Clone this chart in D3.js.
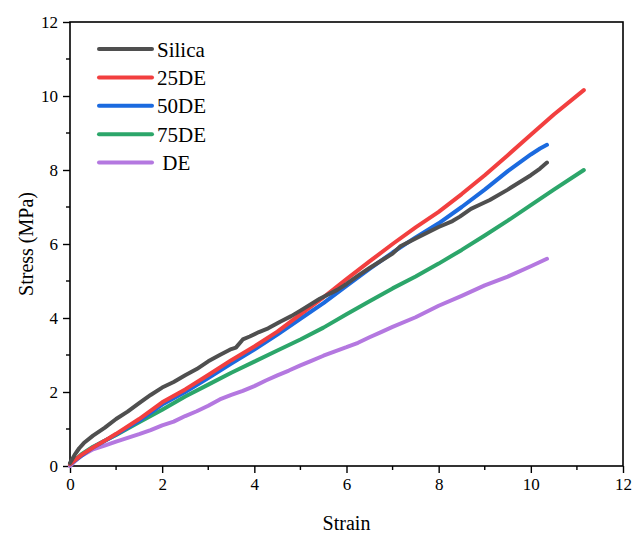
<!DOCTYPE html>
<html>
<head>
<meta charset="utf-8">
<script src="https://cdn.jsdelivr.net/npm/d3@7"></script>
<style>
  html, body { margin: 0; padding: 0; background: #fff; }
  svg { display: block; }
  text { font-family: "Liberation Serif", "Times New Roman", serif; fill: #000; }
</style>
</head>
<body>
<svg id="chart" width="634" height="533"></svg>
<script>
// Stress-strain curves for each filler composition
const seriesNames = ["Silica", "25DE", "50DE", "75DE", " DE"];
const seriesColors = ["#4f4f4f", "#f23f3f", "#1b6adf", "#2ca66a", "#b478e0"];

const silicaStrain = [0, 0.1, 0.2, 0.3, 0.5, 0.75, 1.0, 1.25, 1.5, 1.75, 2.0, 2.25, 2.5, 2.75, 3.0, 3.25, 3.5, 3.6, 3.75, 3.9, 4.1, 4.3, 4.56, 4.8, 5.0, 5.42, 5.8, 6.0, 6.29, 6.5, 7.0, 7.16, 7.5, 8.0, 8.3, 8.46, 8.7, 8.89, 9.11, 9.5, 10.0, 10.2, 10.35];
const silicaStress = [0.08, 0.3, 0.48, 0.62, 0.82, 1.03, 1.27, 1.47, 1.7, 1.92, 2.12, 2.27, 2.45, 2.62, 2.83, 3.0, 3.16, 3.2, 3.42, 3.5, 3.62, 3.72, 3.9, 4.05, 4.2, 4.52, 4.76, 4.92, 5.18, 5.35, 5.74, 5.93, 6.15, 6.46, 6.62, 6.74, 6.95, 7.06, 7.19, 7.47, 7.86, 8.04, 8.2];

const de25Strain = [0, 0.25, 0.5, 0.75, 1.0, 1.5, 2.0, 2.5, 3.0, 3.5, 4.0, 4.5, 5.0, 5.5, 6.0, 6.5, 7.0, 7.5, 8.0, 8.5, 9.0, 9.5, 10.0, 10.5, 11.15];
const de25Stress = [0.05, 0.3, 0.5, 0.68, 0.87, 1.27, 1.72, 2.07, 2.46, 2.86, 3.23, 3.63, 4.1, 4.56, 5.05, 5.53, 6.0, 6.45, 6.87, 7.35, 7.86, 8.4, 8.95, 9.5, 10.16];

const de50Strain = [0, 0.5, 1.0, 1.5, 2.0, 2.5, 3.0, 3.5, 4.0, 4.5, 5.0, 5.5, 6.0, 6.5, 7.0, 7.5, 8.0, 8.5, 9.0, 9.5, 10.0, 10.2, 10.35];
const de50Stress = [0.05, 0.5, 0.85, 1.22, 1.66, 2.0, 2.38, 2.77, 3.15, 3.55, 3.98, 4.4, 4.87, 5.33, 5.77, 6.18, 6.56, 7.0, 7.47, 7.97, 8.42, 8.58, 8.68];

const de75Strain = [0, 0.25, 0.5, 0.75, 1.0, 1.5, 2.0, 2.5, 3.0, 3.5, 4.0, 4.5, 5.0, 5.5, 6.0, 6.5, 7.0, 7.5, 8.0, 8.5, 9.0, 9.5, 10.0, 10.5, 11.15];
const de75Stress = [0.05, 0.32, 0.52, 0.68, 0.84, 1.18, 1.52, 1.88, 2.2, 2.52, 2.82, 3.12, 3.42, 3.74, 4.1, 4.45, 4.8, 5.12, 5.47, 5.84, 6.23, 6.63, 7.05, 7.47, 8.0];

const deStrain = [0, 0.1, 0.25, 0.5, 0.75, 1.0, 1.25, 1.5, 1.75, 2.0, 2.25, 2.5, 2.75, 3.0, 3.25, 3.5, 3.75, 4.0, 4.25, 4.5, 4.75, 5.0, 5.25, 5.5, 5.75, 6.0, 6.25, 6.5, 6.75, 7.0, 7.5, 8.0, 8.5, 9.0, 9.5, 10.0, 10.35];
const deStress = [0.0, 0.12, 0.28, 0.45, 0.55, 0.66, 0.76, 0.86, 0.97, 1.1, 1.2, 1.35, 1.48, 1.63, 1.8, 1.92, 2.03, 2.16, 2.31, 2.45, 2.58, 2.72, 2.85, 2.98, 3.1, 3.21, 3.33, 3.48, 3.62, 3.76, 4.02, 4.33, 4.6, 4.88, 5.12, 5.4, 5.6];

const xTicks = [0, 2, 4, 6, 8, 10, 12];
const yTicks = [0, 2, 4, 6, 8, 10, 12];

const strainSets = [silicaStrain, de25Strain, de50Strain, de75Strain, deStrain];
const stressSets = [silicaStress, de25Stress, de50Stress, de75Stress, deStress];

const serif = "'Liberation Serif', 'Times New Roman', serif";
const svg = d3.select("#chart");
const margin = { left: 70, top: 22, right: 634 - 623, bottom: 533 - 466 };
const W = 634, H = 533;

const x = d3.scaleLinear().domain([0, 12]).range([margin.left, W - margin.right]);
const y = d3.scaleLinear().domain([0, 12]).range([H - margin.bottom, margin.top]);

// frame
svg.append("rect")
  .attr("x", x(0)).attr("y", y(12))
  .attr("width", x(12) - x(0)).attr("height", y(0) - y(12))
  .attr("fill", "none").attr("stroke", "#000").attr("stroke-width", 1.6);

// minor ticks
const minorX = d3.range(1, 12, 2);
const minorY = d3.range(1, 12, 2);
svg.append("g").selectAll("line").data(minorX).join("line")
  .attr("x1", d => x(d)).attr("x2", d => x(d))
  .attr("y1", y(0)).attr("y2", y(0) + 4)
  .attr("stroke", "#000").attr("stroke-width", 1.4);
svg.append("g").selectAll("line").data(minorY).join("line")
  .attr("y1", d => y(d)).attr("y2", d => y(d))
  .attr("x1", x(0)).attr("x2", x(0) - 4)
  .attr("stroke", "#000").attr("stroke-width", 1.4);

// major axes
const xAxis = d3.axisBottom(x).tickValues(xTicks).tickSize(7).tickPadding(5).tickFormat(d3.format("d"));
const yAxis = d3.axisLeft(y).tickValues(yTicks).tickSize(7).tickPadding(5).tickFormat(d3.format("d"));

const gx = svg.append("g").attr("transform", `translate(0,${y(0)})`).call(xAxis);
const gy = svg.append("g").attr("transform", `translate(${x(0)},0)`).call(yAxis);
[gx, gy].forEach(g => {
  g.attr("font-family", null).attr("font-size", null);
  g.select(".domain").remove();
  g.selectAll(".tick line").attr("stroke", "#000").attr("stroke-width", 1.4);
  g.selectAll(".tick text")
    .style("font-family", serif)
    .style("font-size", "17px").attr("fill", "#000");
});

// axis titles
svg.append("text")
  .attr("x", (x(0) + x(12)) / 2).attr("y", 530)
  .attr("text-anchor", "middle").style("font-size", "20px")
  .text("Strain");
svg.append("text")
  .attr("transform", `translate(33,${(y(0) + y(12)) / 2}) rotate(-90)`)
  .attr("text-anchor", "middle").style("font-size", "20px")
  .text("Stress (MPa)");

// curves
const line = d3.line().x(d => x(d[0])).y(d => y(d[1]));
const plotOrder = [4, 3, 2, 1, 0];
plotOrder.forEach(i => {
  const pts = strainSets[i].map((s, k) => [s, stressSets[i][k]]);
  svg.append("path")
    .datum(pts)
    .attr("d", line)
    .attr("fill", "none")
    .attr("stroke", seriesColors[i])
    .attr("stroke-width", 4)
    .attr("stroke-linecap", "round")
    .attr("stroke-linejoin", "round");
});

// legend
const legend = svg.append("g");
seriesNames.forEach((name, i) => {
  const ly = 49 + i * 28.4;
  legend.append("line")
    .attr("x1", 99).attr("x2", 152)
    .attr("y1", ly).attr("y2", ly)
    .attr("stroke", seriesColors[i]).attr("stroke-width", 4)
    .attr("stroke-linecap", "round");
  legend.append("text")
    .attr("x", 157).attr("y", ly + 7.5)
    .style("font-size", "21px")
    .style("white-space", "pre")
    .text(name);
});
</script>
</body>
</html>
